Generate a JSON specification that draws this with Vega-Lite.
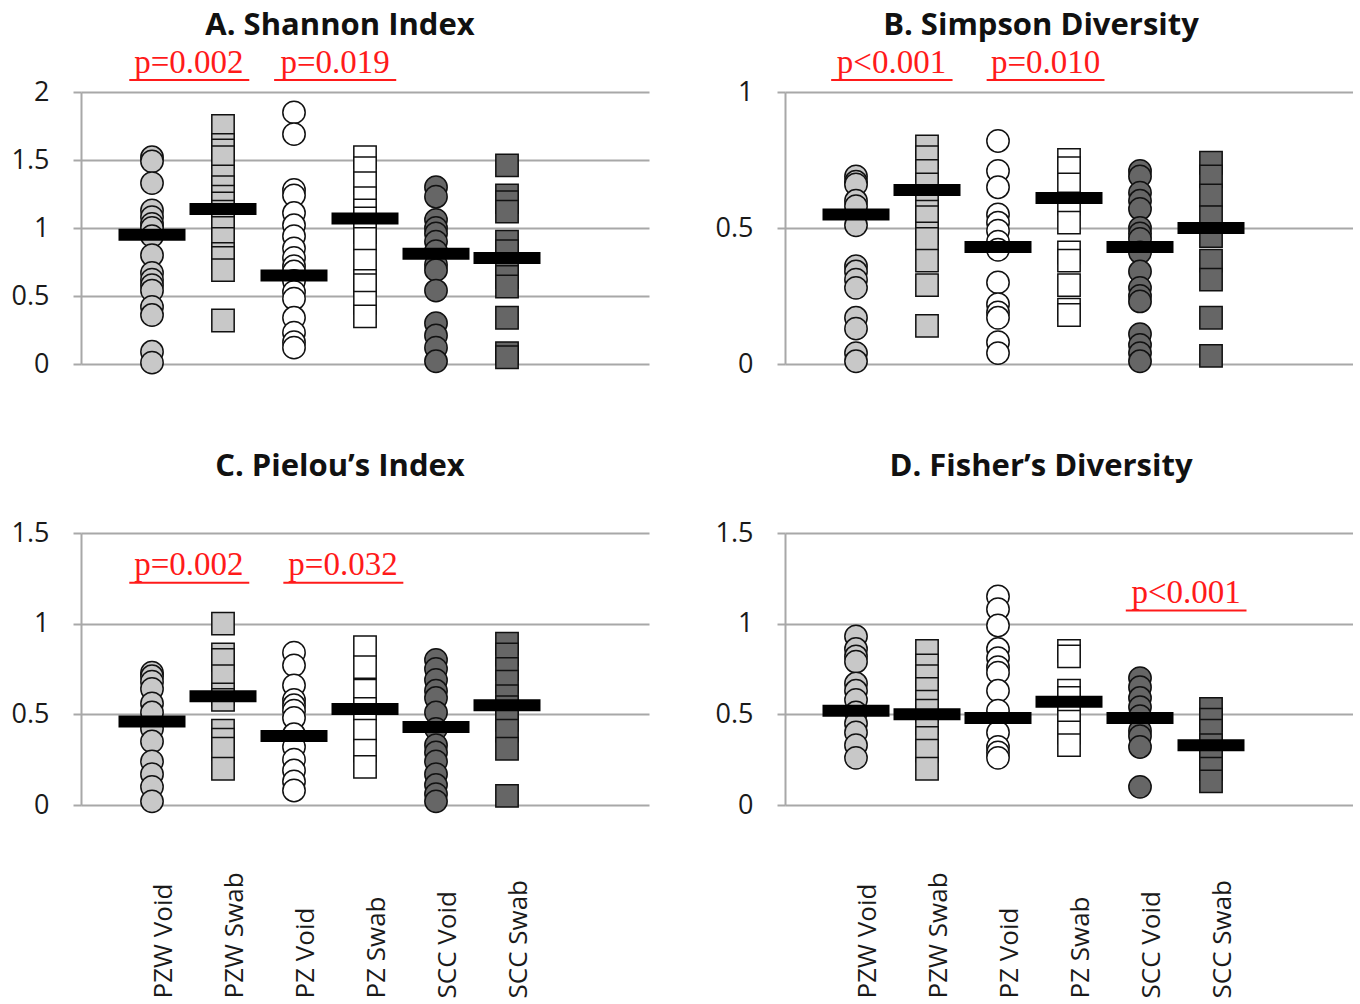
{
  "$schema": "https://vega.github.io/schema/vega-lite/v6.json",
  "background": "white",
  "padding": {"left": 11, "top": 9, "right": 0, "bottom": 0},
  "datasets": {
    "A_pts": [
      {"g":"PZW Void","x":1,"v":1.52},{"g":"PZW Void","x":1,"v":1.49},{"g":"PZW Void","x":1,"v":1.33},{"g":"PZW Void","x":1,"v":1.13},{"g":"PZW Void","x":1,"v":1.08},{"g":"PZW Void","x":1,"v":1.03},{"g":"PZW Void","x":1,"v":1.0},{"g":"PZW Void","x":1,"v":0.94},{"g":"PZW Void","x":1,"v":0.8},{"g":"PZW Void","x":1,"v":0.67},{"g":"PZW Void","x":1,"v":0.62},{"g":"PZW Void","x":1,"v":0.58},{"g":"PZW Void","x":1,"v":0.54},{"g":"PZW Void","x":1,"v":0.42},{"g":"PZW Void","x":1,"v":0.36},{"g":"PZW Void","x":1,"v":0.09},{"g":"PZW Void","x":1,"v":0.01},
      {"g":"PZW Swab","x":2,"v":1.75},{"g":"PZW Swab","x":2,"v":1.61},{"g":"PZW Swab","x":2,"v":1.57},{"g":"PZW Swab","x":2,"v":1.52},{"g":"PZW Swab","x":2,"v":1.38},{"g":"PZW Swab","x":2,"v":1.3},{"g":"PZW Swab","x":2,"v":1.23},{"g":"PZW Swab","x":2,"v":1.18},{"g":"PZW Swab","x":2,"v":1.12},{"g":"PZW Swab","x":2,"v":1.07},{"g":"PZW Swab","x":2,"v":1.0},{"g":"PZW Swab","x":2,"v":0.92},{"g":"PZW Swab","x":2,"v":0.81},{"g":"PZW Swab","x":2,"v":0.78},{"g":"PZW Swab","x":2,"v":0.69},{"g":"PZW Swab","x":2,"v":0.32},
      {"g":"PZ Void","x":3,"v":1.85},{"g":"PZ Void","x":3,"v":1.69},{"g":"PZ Void","x":3,"v":1.28},{"g":"PZ Void","x":3,"v":1.24},{"g":"PZ Void","x":3,"v":1.11},{"g":"PZ Void","x":3,"v":1.02},{"g":"PZ Void","x":3,"v":0.94},{"g":"PZ Void","x":3,"v":0.85},{"g":"PZ Void","x":3,"v":0.78},{"g":"PZ Void","x":3,"v":0.72},{"g":"PZ Void","x":3,"v":0.68},{"g":"PZ Void","x":3,"v":0.61},{"g":"PZ Void","x":3,"v":0.53},{"g":"PZ Void","x":3,"v":0.48},{"g":"PZ Void","x":3,"v":0.34},{"g":"PZ Void","x":3,"v":0.23},{"g":"PZ Void","x":3,"v":0.16},{"g":"PZ Void","x":3,"v":0.12},
      {"g":"PZ Swab","x":4,"v":1.52},{"g":"PZ Swab","x":4,"v":1.44},{"g":"PZ Swab","x":4,"v":1.33},{"g":"PZ Swab","x":4,"v":1.22},{"g":"PZ Swab","x":4,"v":1.13},{"g":"PZ Swab","x":4,"v":1.07},{"g":"PZ Swab","x":4,"v":0.97},{"g":"PZ Swab","x":4,"v":0.92},{"g":"PZ Swab","x":4,"v":0.76},{"g":"PZ Swab","x":4,"v":0.61},{"g":"PZ Swab","x":4,"v":0.58},{"g":"PZ Swab","x":4,"v":0.45},{"g":"PZ Swab","x":4,"v":0.35},
      {"g":"SCC Void","x":5,"v":1.3},{"g":"SCC Void","x":5,"v":1.23},{"g":"SCC Void","x":5,"v":1.06},{"g":"SCC Void","x":5,"v":1.0},{"g":"SCC Void","x":5,"v":0.96},{"g":"SCC Void","x":5,"v":0.9},{"g":"SCC Void","x":5,"v":0.83},{"g":"SCC Void","x":5,"v":0.73},{"g":"SCC Void","x":5,"v":0.69},{"g":"SCC Void","x":5,"v":0.54},{"g":"SCC Void","x":5,"v":0.3},{"g":"SCC Void","x":5,"v":0.21},{"g":"SCC Void","x":5,"v":0.12},{"g":"SCC Void","x":5,"v":0.02},
      {"g":"SCC Swab","x":6,"v":1.46},{"g":"SCC Swab","x":6,"v":1.24},{"g":"SCC Swab","x":6,"v":1.19},{"g":"SCC Swab","x":6,"v":1.12},{"g":"SCC Swab","x":6,"v":0.9},{"g":"SCC Swab","x":6,"v":0.83},{"g":"SCC Swab","x":6,"v":0.72},{"g":"SCC Swab","x":6,"v":0.64},{"g":"SCC Swab","x":6,"v":0.57},{"g":"SCC Swab","x":6,"v":0.34},{"g":"SCC Swab","x":6,"v":0.08},{"g":"SCC Swab","x":6,"v":0.05}
    ],
    "A_bars": [
      {"g":"PZW Void","x":1,"v":0.95},{"g":"PZW Swab","x":2,"v":1.14},{"g":"PZ Void","x":3,"v":0.65},{"g":"PZ Swab","x":4,"v":1.07},{"g":"SCC Void","x":5,"v":0.81},{"g":"SCC Swab","x":6,"v":0.78}
    ],
    "A_pv": [
      {"label":"p=0.002","x":1.52,"x1":0.68,"x2":2.37,"y":2.14,"yu":2.088},
      {"label":"p=0.019","x":3.58,"x1":2.72,"x2":4.44,"y":2.14,"yu":2.088}
    ],
    "B_pts": [
      {"g":"PZW Void","x":1,"v":0.69},{"g":"PZW Void","x":1,"v":0.67},{"g":"PZW Void","x":1,"v":0.66},{"g":"PZW Void","x":1,"v":0.6},{"g":"PZW Void","x":1,"v":0.58},{"g":"PZW Void","x":1,"v":0.51},{"g":"PZW Void","x":1,"v":0.36},{"g":"PZW Void","x":1,"v":0.34},{"g":"PZW Void","x":1,"v":0.31},{"g":"PZW Void","x":1,"v":0.28},{"g":"PZW Void","x":1,"v":0.17},{"g":"PZW Void","x":1,"v":0.13},{"g":"PZW Void","x":1,"v":0.04},{"g":"PZW Void","x":1,"v":0.01},
      {"g":"PZW Swab","x":2,"v":0.8},{"g":"PZW Swab","x":2,"v":0.76},{"g":"PZW Swab","x":2,"v":0.71},{"g":"PZW Swab","x":2,"v":0.66},{"g":"PZW Swab","x":2,"v":0.61},{"g":"PZW Swab","x":2,"v":0.56},{"g":"PZW Swab","x":2,"v":0.54},{"g":"PZW Swab","x":2,"v":0.48},{"g":"PZW Swab","x":2,"v":0.46},{"g":"PZW Swab","x":2,"v":0.38},{"g":"PZW Swab","x":2,"v":0.29},{"g":"PZW Swab","x":2,"v":0.14},
      {"g":"PZ Void","x":3,"v":0.82},{"g":"PZ Void","x":3,"v":0.71},{"g":"PZ Void","x":3,"v":0.65},{"g":"PZ Void","x":3,"v":0.55},{"g":"PZ Void","x":3,"v":0.52},{"g":"PZ Void","x":3,"v":0.49},{"g":"PZ Void","x":3,"v":0.45},{"g":"PZ Void","x":3,"v":0.42},{"g":"PZ Void","x":3,"v":0.3},{"g":"PZ Void","x":3,"v":0.22},{"g":"PZ Void","x":3,"v":0.19},{"g":"PZ Void","x":3,"v":0.17},{"g":"PZ Void","x":3,"v":0.08},{"g":"PZ Void","x":3,"v":0.04},
      {"g":"PZ Swab","x":4,"v":0.75},{"g":"PZ Swab","x":4,"v":0.72},{"g":"PZ Swab","x":4,"v":0.66},{"g":"PZ Swab","x":4,"v":0.59},{"g":"PZ Swab","x":4,"v":0.52},{"g":"PZ Swab","x":4,"v":0.41},{"g":"PZ Swab","x":4,"v":0.38},{"g":"PZ Swab","x":4,"v":0.29},{"g":"PZ Swab","x":4,"v":0.2},{"g":"PZ Swab","x":4,"v":0.18},
      {"g":"SCC Void","x":5,"v":0.71},{"g":"SCC Void","x":5,"v":0.69},{"g":"SCC Void","x":5,"v":0.63},{"g":"SCC Void","x":5,"v":0.6},{"g":"SCC Void","x":5,"v":0.57},{"g":"SCC Void","x":5,"v":0.5},{"g":"SCC Void","x":5,"v":0.48},{"g":"SCC Void","x":5,"v":0.46},{"g":"SCC Void","x":5,"v":0.41},{"g":"SCC Void","x":5,"v":0.34},{"g":"SCC Void","x":5,"v":0.28},{"g":"SCC Void","x":5,"v":0.25},{"g":"SCC Void","x":5,"v":0.23},{"g":"SCC Void","x":5,"v":0.11},{"g":"SCC Void","x":5,"v":0.07},{"g":"SCC Void","x":5,"v":0.04},{"g":"SCC Void","x":5,"v":0.01},
      {"g":"SCC Swab","x":6,"v":0.74},{"g":"SCC Swab","x":6,"v":0.69},{"g":"SCC Swab","x":6,"v":0.62},{"g":"SCC Swab","x":6,"v":0.54},{"g":"SCC Swab","x":6,"v":0.47},{"g":"SCC Swab","x":6,"v":0.38},{"g":"SCC Swab","x":6,"v":0.31},{"g":"SCC Swab","x":6,"v":0.17},{"g":"SCC Swab","x":6,"v":0.03}
    ],
    "B_bars": [
      {"g":"PZW Void","x":1,"v":0.55},{"g":"PZW Swab","x":2,"v":0.64},{"g":"PZ Void","x":3,"v":0.43},{"g":"PZ Swab","x":4,"v":0.61},{"g":"SCC Void","x":5,"v":0.43},{"g":"SCC Swab","x":6,"v":0.5}
    ],
    "B_pv": [
      {"label":"p<0.001","x":1.5,"x1":0.65,"x2":2.36,"y":1.07,"yu":1.044},
      {"label":"p=0.010","x":3.67,"x1":2.84,"x2":4.5,"y":1.07,"yu":1.044}
    ],
    "C_pts": [
      {"g":"PZW Void","x":1,"v":0.73},{"g":"PZW Void","x":1,"v":0.71},{"g":"PZW Void","x":1,"v":0.68},{"g":"PZW Void","x":1,"v":0.64},{"g":"PZW Void","x":1,"v":0.56},{"g":"PZW Void","x":1,"v":0.51},{"g":"PZW Void","x":1,"v":0.42},{"g":"PZW Void","x":1,"v":0.35},{"g":"PZW Void","x":1,"v":0.24},{"g":"PZW Void","x":1,"v":0.17},{"g":"PZW Void","x":1,"v":0.1},{"g":"PZW Void","x":1,"v":0.02},
      {"g":"PZW Swab","x":2,"v":1.0},{"g":"PZW Swab","x":2,"v":0.83},{"g":"PZW Swab","x":2,"v":0.8},{"g":"PZW Swab","x":2,"v":0.71},{"g":"PZW Swab","x":2,"v":0.61},{"g":"PZW Swab","x":2,"v":0.58},{"g":"PZW Swab","x":2,"v":0.41},{"g":"PZW Swab","x":2,"v":0.36},{"g":"PZW Swab","x":2,"v":0.31},{"g":"PZW Swab","x":2,"v":0.2},
      {"g":"PZ Void","x":3,"v":0.84},{"g":"PZ Void","x":3,"v":0.77},{"g":"PZ Void","x":3,"v":0.66},{"g":"PZ Void","x":3,"v":0.58},{"g":"PZ Void","x":3,"v":0.55},{"g":"PZ Void","x":3,"v":0.52},{"g":"PZ Void","x":3,"v":0.48},{"g":"PZ Void","x":3,"v":0.39},{"g":"PZ Void","x":3,"v":0.32},{"g":"PZ Void","x":3,"v":0.25},{"g":"PZ Void","x":3,"v":0.19},{"g":"PZ Void","x":3,"v":0.13},{"g":"PZ Void","x":3,"v":0.08},
      {"g":"PZ Swab","x":4,"v":0.87},{"g":"PZ Swab","x":4,"v":0.76},{"g":"PZ Swab","x":4,"v":0.63},{"g":"PZ Swab","x":4,"v":0.53},{"g":"PZ Swab","x":4,"v":0.41},{"g":"PZ Swab","x":4,"v":0.3},{"g":"PZ Swab","x":4,"v":0.21},
      {"g":"SCC Void","x":5,"v":0.8},{"g":"SCC Void","x":5,"v":0.75},{"g":"SCC Void","x":5,"v":0.69},{"g":"SCC Void","x":5,"v":0.63},{"g":"SCC Void","x":5,"v":0.59},{"g":"SCC Void","x":5,"v":0.51},{"g":"SCC Void","x":5,"v":0.42},{"g":"SCC Void","x":5,"v":0.33},{"g":"SCC Void","x":5,"v":0.29},{"g":"SCC Void","x":5,"v":0.24},{"g":"SCC Void","x":5,"v":0.17},{"g":"SCC Void","x":5,"v":0.11},{"g":"SCC Void","x":5,"v":0.06},{"g":"SCC Void","x":5,"v":0.02},
      {"g":"SCC Swab","x":6,"v":0.89},{"g":"SCC Swab","x":6,"v":0.83},{"g":"SCC Swab","x":6,"v":0.75},{"g":"SCC Swab","x":6,"v":0.68},{"g":"SCC Swab","x":6,"v":0.6},{"g":"SCC Swab","x":6,"v":0.54},{"g":"SCC Swab","x":6,"v":0.47},{"g":"SCC Swab","x":6,"v":0.41},{"g":"SCC Swab","x":6,"v":0.31},{"g":"SCC Swab","x":6,"v":0.05}
    ],
    "C_bars": [
      {"g":"PZW Void","x":1,"v":0.46},{"g":"PZW Swab","x":2,"v":0.6},{"g":"PZ Void","x":3,"v":0.38},{"g":"PZ Swab","x":4,"v":0.53},{"g":"SCC Void","x":5,"v":0.43},{"g":"SCC Swab","x":6,"v":0.55}
    ],
    "C_pv": [
      {"label":"p=0.002","x":1.52,"x1":0.68,"x2":2.37,"y":1.269,"yu":1.226},
      {"label":"p=0.032","x":3.69,"x1":2.85,"x2":4.54,"y":1.269,"yu":1.226}
    ],
    "D_pts": [
      {"g":"PZW Void","x":1,"v":0.93},{"g":"PZW Void","x":1,"v":0.86},{"g":"PZW Void","x":1,"v":0.82},{"g":"PZW Void","x":1,"v":0.79},{"g":"PZW Void","x":1,"v":0.67},{"g":"PZW Void","x":1,"v":0.63},{"g":"PZW Void","x":1,"v":0.58},{"g":"PZW Void","x":1,"v":0.51},{"g":"PZW Void","x":1,"v":0.45},{"g":"PZW Void","x":1,"v":0.4},{"g":"PZW Void","x":1,"v":0.33},{"g":"PZW Void","x":1,"v":0.26},
      {"g":"PZW Swab","x":2,"v":0.85},{"g":"PZW Swab","x":2,"v":0.77},{"g":"PZW Swab","x":2,"v":0.71},{"g":"PZW Swab","x":2,"v":0.64},{"g":"PZW Swab","x":2,"v":0.57},{"g":"PZW Swab","x":2,"v":0.52},{"g":"PZW Swab","x":2,"v":0.45},{"g":"PZW Swab","x":2,"v":0.37},{"g":"PZW Swab","x":2,"v":0.3},{"g":"PZW Swab","x":2,"v":0.2},
      {"g":"PZ Void","x":3,"v":1.15},{"g":"PZ Void","x":3,"v":1.08},{"g":"PZ Void","x":3,"v":0.99},{"g":"PZ Void","x":3,"v":0.86},{"g":"PZ Void","x":3,"v":0.81},{"g":"PZ Void","x":3,"v":0.76},{"g":"PZ Void","x":3,"v":0.73},{"g":"PZ Void","x":3,"v":0.63},{"g":"PZ Void","x":3,"v":0.52},{"g":"PZ Void","x":3,"v":0.4},{"g":"PZ Void","x":3,"v":0.32},{"g":"PZ Void","x":3,"v":0.29},{"g":"PZ Void","x":3,"v":0.26},
      {"g":"PZ Swab","x":4,"v":0.85},{"g":"PZ Swab","x":4,"v":0.82},{"g":"PZ Swab","x":4,"v":0.63},{"g":"PZ Swab","x":4,"v":0.59},{"g":"PZ Swab","x":4,"v":0.52},{"g":"PZ Swab","x":4,"v":0.46},{"g":"PZ Swab","x":4,"v":0.4},{"g":"PZ Swab","x":4,"v":0.33},
      {"g":"SCC Void","x":5,"v":0.7},{"g":"SCC Void","x":5,"v":0.65},{"g":"SCC Void","x":5,"v":0.59},{"g":"SCC Void","x":5,"v":0.54},{"g":"SCC Void","x":5,"v":0.49},{"g":"SCC Void","x":5,"v":0.41},{"g":"SCC Void","x":5,"v":0.38},{"g":"SCC Void","x":5,"v":0.32},{"g":"SCC Void","x":5,"v":0.1},
      {"g":"SCC Swab","x":6,"v":0.53},{"g":"SCC Swab","x":6,"v":0.47},{"g":"SCC Swab","x":6,"v":0.41},{"g":"SCC Swab","x":6,"v":0.33},{"g":"SCC Swab","x":6,"v":0.26},{"g":"SCC Swab","x":6,"v":0.2},{"g":"SCC Swab","x":6,"v":0.13}
    ],
    "D_bars": [
      {"g":"PZW Void","x":1,"v":0.52},{"g":"PZW Swab","x":2,"v":0.5},{"g":"PZ Void","x":3,"v":0.48},{"g":"PZ Swab","x":4,"v":0.57},{"g":"SCC Void","x":5,"v":0.48},{"g":"SCC Swab","x":6,"v":0.33}
    ],
    "D_pv": [
      {"label":"p<0.001","x":5.65,"x1":4.8,"x2":6.5,"y":1.115,"yu":1.072}
    ]
  },
  "vconcat": [
    {
      "spacing": 66,
      "hconcat": [
        {
          "width": 568, "height": 272,
          "title": {"text": "A. Shannon Index", "dx": -25, "offset": 5},
          "layer": [
            {"data": {"name": "A_pts"}, "mark": {"type": "point", "filled": true, "stroke": "#111111", "strokeWidth": 1.5, "opacity": 1, "size": 500},
             "encoding": {
               "x": {"field": "x", "type": "quantitative", "scale": {"domain": [0, 8], "nice": false}, "axis": null},
               "y": {"field": "v", "type": "quantitative", "scale": {"domain": [0, 2], "nice": false}, "axis": {"values": [0, 0.5, 1, 1.5, 2], "format": "~g", "title": null}},
               "fill": {"field": "g", "type": "nominal", "scale": {"domain": ["PZW Void","PZW Swab","PZ Void","PZ Swab","SCC Void","SCC Swab"], "range": ["#c8c8c8","#c8c8c8","#ffffff","#ffffff","#666666","#666666"]}, "legend": null},
               "shape": {"field": "g", "type": "nominal", "scale": {"domain": ["PZW Void","PZW Swab","PZ Void","PZ Swab","SCC Void","SCC Swab"], "range": ["circle","square","circle","square","circle","square"]}, "legend": null}
             }},
            {"data": {"name": "A_bars"}, "mark": {"type": "tick", "orient": "horizontal", "size": 67, "thickness": 12, "color": "#000000", "opacity": 1},
             "encoding": {"x": {"field": "x", "type": "quantitative"}, "y": {"field": "v", "type": "quantitative"}}},
            {"data": {"name": "A_pv"}, "mark": {"type": "rule", "color": "#ff1a1a", "strokeWidth": 2},
             "encoding": {"x": {"field": "x1", "type": "quantitative"}, "x2": {"field": "x2"}, "y": {"field": "yu", "type": "quantitative"}}},
            {"data": {"name": "A_pv"}, "mark": {"type": "text", "font": "Liberation Serif", "fontSize": 33, "color": "#ff1a1a", "align": "center", "baseline": "alphabetic"},
             "encoding": {"x": {"field": "x", "type": "quantitative"}, "y": {"field": "y", "type": "quantitative"}, "text": {"field": "label"}}}
          ]
        },
        {
          "width": 568, "height": 272,
          "title": {"text": "B. Simpson Diversity", "dx": -28, "offset": 5},
          "layer": [
            {"data": {"name": "B_pts"}, "mark": {"type": "point", "filled": true, "stroke": "#111111", "strokeWidth": 1.5, "opacity": 1, "size": 500},
             "encoding": {
               "x": {"field": "x", "type": "quantitative", "scale": {"domain": [0, 8], "nice": false}, "axis": null},
               "y": {"field": "v", "type": "quantitative", "scale": {"domain": [0, 1], "nice": false}, "axis": {"values": [0, 0.5, 1], "format": "~g", "title": null}},
               "fill": {"field": "g", "type": "nominal", "scale": {"domain": ["PZW Void","PZW Swab","PZ Void","PZ Swab","SCC Void","SCC Swab"], "range": ["#c8c8c8","#c8c8c8","#ffffff","#ffffff","#666666","#666666"]}, "legend": null},
               "shape": {"field": "g", "type": "nominal", "scale": {"domain": ["PZW Void","PZW Swab","PZ Void","PZ Swab","SCC Void","SCC Swab"], "range": ["circle","square","circle","square","circle","square"]}, "legend": null}
             }},
            {"data": {"name": "B_bars"}, "mark": {"type": "tick", "orient": "horizontal", "size": 67, "thickness": 12, "color": "#000000", "opacity": 1},
             "encoding": {"x": {"field": "x", "type": "quantitative"}, "y": {"field": "v", "type": "quantitative"}}},
            {"data": {"name": "B_pv"}, "mark": {"type": "rule", "color": "#ff1a1a", "strokeWidth": 2},
             "encoding": {"x": {"field": "x1", "type": "quantitative"}, "x2": {"field": "x2"}, "y": {"field": "yu", "type": "quantitative"}}},
            {"data": {"name": "B_pv"}, "mark": {"type": "text", "font": "Liberation Serif", "fontSize": 33, "color": "#ff1a1a", "align": "center", "baseline": "alphabetic"},
             "encoding": {"x": {"field": "x", "type": "quantitative"}, "y": {"field": "y", "type": "quantitative"}, "text": {"field": "label"}}}
          ]
        }
      ]
    },
    {
      "spacing": 66,
      "hconcat": [
        {
          "width": 568, "height": 272,
          "title": {"text": "C. Pielou’s Index", "dx": -25, "offset": 36},
          "layer": [
            {"data": {"name": "C_pts"}, "mark": {"type": "point", "filled": true, "stroke": "#111111", "strokeWidth": 1.5, "opacity": 1, "size": 500},
             "encoding": {
               "x": {"field": "x", "type": "quantitative", "scale": {"domain": [0, 8], "nice": false}, "axis": {"values": [1,2,3,4,5,6], "title": null, "labelExpr": "['', 'PZW Void', 'PZW Swab', 'PZ Void', 'PZ Swab', 'SCC Void', 'SCC Swab'][datum.value]"}},
               "y": {"field": "v", "type": "quantitative", "scale": {"domain": [0, 1.5], "nice": false}, "axis": {"values": [0, 0.5, 1, 1.5], "format": "~g", "title": null}},
               "fill": {"field": "g", "type": "nominal", "scale": {"domain": ["PZW Void","PZW Swab","PZ Void","PZ Swab","SCC Void","SCC Swab"], "range": ["#c8c8c8","#c8c8c8","#ffffff","#ffffff","#666666","#666666"]}, "legend": null},
               "shape": {"field": "g", "type": "nominal", "scale": {"domain": ["PZW Void","PZW Swab","PZ Void","PZ Swab","SCC Void","SCC Swab"], "range": ["circle","square","circle","square","circle","square"]}, "legend": null}
             }},
            {"data": {"name": "C_bars"}, "mark": {"type": "tick", "orient": "horizontal", "size": 67, "thickness": 12, "color": "#000000", "opacity": 1},
             "encoding": {"x": {"field": "x", "type": "quantitative"}, "y": {"field": "v", "type": "quantitative"}}},
            {"data": {"name": "C_pv"}, "mark": {"type": "rule", "color": "#ff1a1a", "strokeWidth": 2},
             "encoding": {"x": {"field": "x1", "type": "quantitative"}, "x2": {"field": "x2"}, "y": {"field": "yu", "type": "quantitative"}}},
            {"data": {"name": "C_pv"}, "mark": {"type": "text", "font": "Liberation Serif", "fontSize": 33, "color": "#ff1a1a", "align": "center", "baseline": "alphabetic"},
             "encoding": {"x": {"field": "x", "type": "quantitative"}, "y": {"field": "y", "type": "quantitative"}, "text": {"field": "label"}}}
          ]
        },
        {
          "width": 568, "height": 272,
          "title": {"text": "D. Fisher’s Diversity", "dx": -28, "offset": 36},
          "layer": [
            {"data": {"name": "D_pts"}, "mark": {"type": "point", "filled": true, "stroke": "#111111", "strokeWidth": 1.5, "opacity": 1, "size": 500},
             "encoding": {
               "x": {"field": "x", "type": "quantitative", "scale": {"domain": [0, 8], "nice": false}, "axis": {"values": [1,2,3,4,5,6], "title": null, "labelExpr": "['', 'PZW Void', 'PZW Swab', 'PZ Void', 'PZ Swab', 'SCC Void', 'SCC Swab'][datum.value]"}},
               "y": {"field": "v", "type": "quantitative", "scale": {"domain": [0, 1.5], "nice": false}, "axis": {"values": [0, 0.5, 1, 1.5], "format": "~g", "title": null}},
               "fill": {"field": "g", "type": "nominal", "scale": {"domain": ["PZW Void","PZW Swab","PZ Void","PZ Swab","SCC Void","SCC Swab"], "range": ["#c8c8c8","#c8c8c8","#ffffff","#ffffff","#666666","#666666"]}, "legend": null},
               "shape": {"field": "g", "type": "nominal", "scale": {"domain": ["PZW Void","PZW Swab","PZ Void","PZ Swab","SCC Void","SCC Swab"], "range": ["circle","square","circle","square","circle","square"]}, "legend": null}
             }},
            {"data": {"name": "D_bars"}, "mark": {"type": "tick", "orient": "horizontal", "size": 67, "thickness": 12, "color": "#000000", "opacity": 1},
             "encoding": {"x": {"field": "x", "type": "quantitative"}, "y": {"field": "v", "type": "quantitative"}}},
            {"data": {"name": "D_pv"}, "mark": {"type": "rule", "color": "#ff1a1a", "strokeWidth": 2},
             "encoding": {"x": {"field": "x1", "type": "quantitative"}, "x2": {"field": "x2"}, "y": {"field": "yu", "type": "quantitative"}}},
            {"data": {"name": "D_pv"}, "mark": {"type": "text", "font": "Liberation Serif", "fontSize": 33, "color": "#ff1a1a", "align": "center", "baseline": "alphabetic"},
             "encoding": {"x": {"field": "x", "type": "quantitative"}, "y": {"field": "y", "type": "quantitative"}, "text": {"field": "label"}}}
          ]
        }
      ]
    }
  ],
  "spacing": 74,
  "config": {
    "view": {"stroke": null},
    "title": {"font": "Open Sans", "fontSize": 31, "fontWeight": "bold", "color": "#111111", "anchor": "middle"},
    "axisY": {"grid": true, "gridColor": "#a8a8a8", "gridWidth": 2, "domain": true, "domainColor": "#a8a8a8", "domainWidth": 2, "ticks": true, "tickColor": "#a8a8a8", "tickWidth": 2, "tickSize": 8, "labelFont": "Open Sans", "labelFontSize": 27, "labelColor": "#1a1a1a", "labelPadding": 24, "labelFlush": false, "labelOverlap": false, "labelBound": false},
    "axisX": {"grid": false, "domain": false, "ticks": false, "labelFont": "Open Sans", "labelFontSize": 26, "labelColor": "#1a1a1a", "labelAngle": -90, "labelAlign": "left", "labelBaseline": "middle", "labelPadding": 193, "labelOffset": 11, "labelFlush": false, "labelOverlap": false, "labelBound": false}
  }
}
